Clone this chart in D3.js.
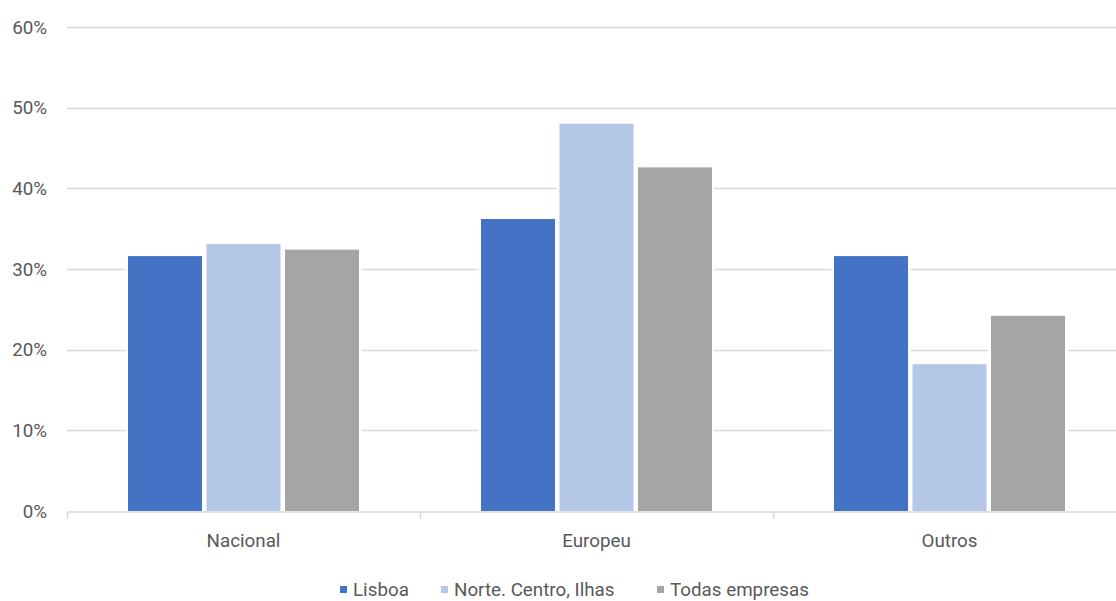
<!DOCTYPE html>
<html>
<head>
<meta charset="utf-8">
<script src="https://cdn.jsdelivr.net/npm/d3@7"></script>
<style>
  html, body { margin: 0; padding: 0; background: #fff; }
  svg { display: block; }
  text { font-family: Roboto, "Liberation Sans", sans-serif; fill: #595959; }
</style>
</head>
<body>
<svg id="chart" width="1116" height="601"></svg>
<script>
// Share of companies by market, per region group
const categories = ["Nacional", "Europeu", "Outros"];
const seriesNames = ["Lisboa", "Norte. Centro, Ilhas", "Todas empresas"];
const lisboa = [0.316, 0.362, 0.316];
const norteCentroIlhas = [0.331, 0.480, 0.182];
const todasEmpresas = [0.324, 0.426, 0.242];
const yTicks = [0, 0.1, 0.2, 0.3, 0.4, 0.5, 0.6];
const colors = ["#4472c4", "#b4c7e7", "#a5a5a5"];

const seriesValues = [lisboa, norteCentroIlhas, todasEmpresas];

const svg = d3.select("#chart");
const plotLeft = 67, plotRight = 1126, clipRight = 1116, plotTop = 27, plotBottom = 511;
const fontSize = "18.8px";

const y = d3.scaleLinear().domain([0, 0.6]).range([plotBottom, plotTop]);
const x0 = d3.scaleBand().domain(categories).range([plotLeft, plotRight]).padding(0);
const groupW = 231;
const x1 = d3.scaleBand().domain(seriesNames)
  .range([(x0.bandwidth() - groupW) / 2, (x0.bandwidth() + groupW) / 2])
  .paddingInner(0.057).paddingOuter(0);

// horizontal gridlines
svg.append("g").selectAll("line")
  .data(yTicks.filter(d => d > 0))
  .join("line")
  .attr("x1", plotLeft).attr("x2", clipRight)
  .attr("y1", d => Math.round(y(d)) + 0.5).attr("y2", d => Math.round(y(d)) + 0.5)
  .attr("stroke", "#d9d9d9").attr("stroke-width", 1.5);

// y labels
const yAxis = d3.axisLeft(y).tickValues(yTicks).tickFormat(d3.format(".0%")).tickSize(0).tickPadding(20);
const gy = svg.append("g").attr("transform", `translate(${plotLeft},0)`).call(yAxis);
gy.select(".domain").remove();
gy.selectAll("text").style("font-size", fontSize).attr("fill", "#595959").attr("font-family", null);

// bars, each with a white halo that breaks the gridlines
const groups = svg.append("g").selectAll("g")
  .data(categories)
  .join("g")
  .attr("transform", d => `translate(${x0(d)},0)`);

const cells = (c, i) => seriesNames.map((s, k) => ({ s, v: seriesValues[k][i], k }));

groups.selectAll("rect.halo")
  .data(cells)
  .join("rect")
  .attr("class", "halo")
  .attr("x", d => x1(d.s) - 2.5)
  .attr("width", x1.bandwidth() + 5)
  .attr("y", d => y(d.v) - 2.5)
  .attr("height", d => plotBottom - y(d.v) + 2.5)
  .attr("fill", "#fff");

groups.selectAll("rect.bar")
  .data(cells)
  .join("rect")
  .attr("class", "bar")
  .attr("x", d => x1(d.s))
  .attr("width", x1.bandwidth())
  .attr("y", d => y(d.v))
  .attr("height", d => plotBottom - y(d.v))
  .attr("fill", d => colors[d.k]);

// x axis baseline with category ticks
svg.append("line")
  .attr("x1", plotLeft).attr("x2", clipRight)
  .attr("y1", plotBottom + 1).attr("y2", plotBottom + 1)
  .attr("stroke", "#d9d9d9").attr("stroke-width", 1.5);
svg.append("g").selectAll("line")
  .data(categories)
  .join("line")
  .attr("x1", d => Math.round(x0(d)) + 0.5).attr("x2", d => Math.round(x0(d)) + 0.5)
  .attr("y1", plotBottom + 1).attr("y2", plotBottom + 8)
  .attr("stroke", "#d9d9d9").attr("stroke-width", 1.5);
svg.append("g").selectAll("text")
  .data(categories)
  .join("text")
  .attr("x", d => x0(d) + x0.bandwidth() / 2)
  .attr("y", 547)
  .attr("text-anchor", "middle")
  .style("font-size", fontSize)
  .text(d => d);

// legend
const legendX = [340, 441, 657];
const legend = svg.append("g").selectAll("g")
  .data(seriesNames)
  .join("g")
  .attr("transform", (d, i) => `translate(${legendX[i]},589)`);
legend.append("rect")
  .attr("x", 0).attr("y", -3).attr("width", 7).attr("height", 7)
  .attr("fill", (d, i) => colors[i]);
legend.append("text")
  .attr("x", 13).attr("y", 7)
  .style("font-size", fontSize)
  .text(d => d);
</script>
</body>
</html>
